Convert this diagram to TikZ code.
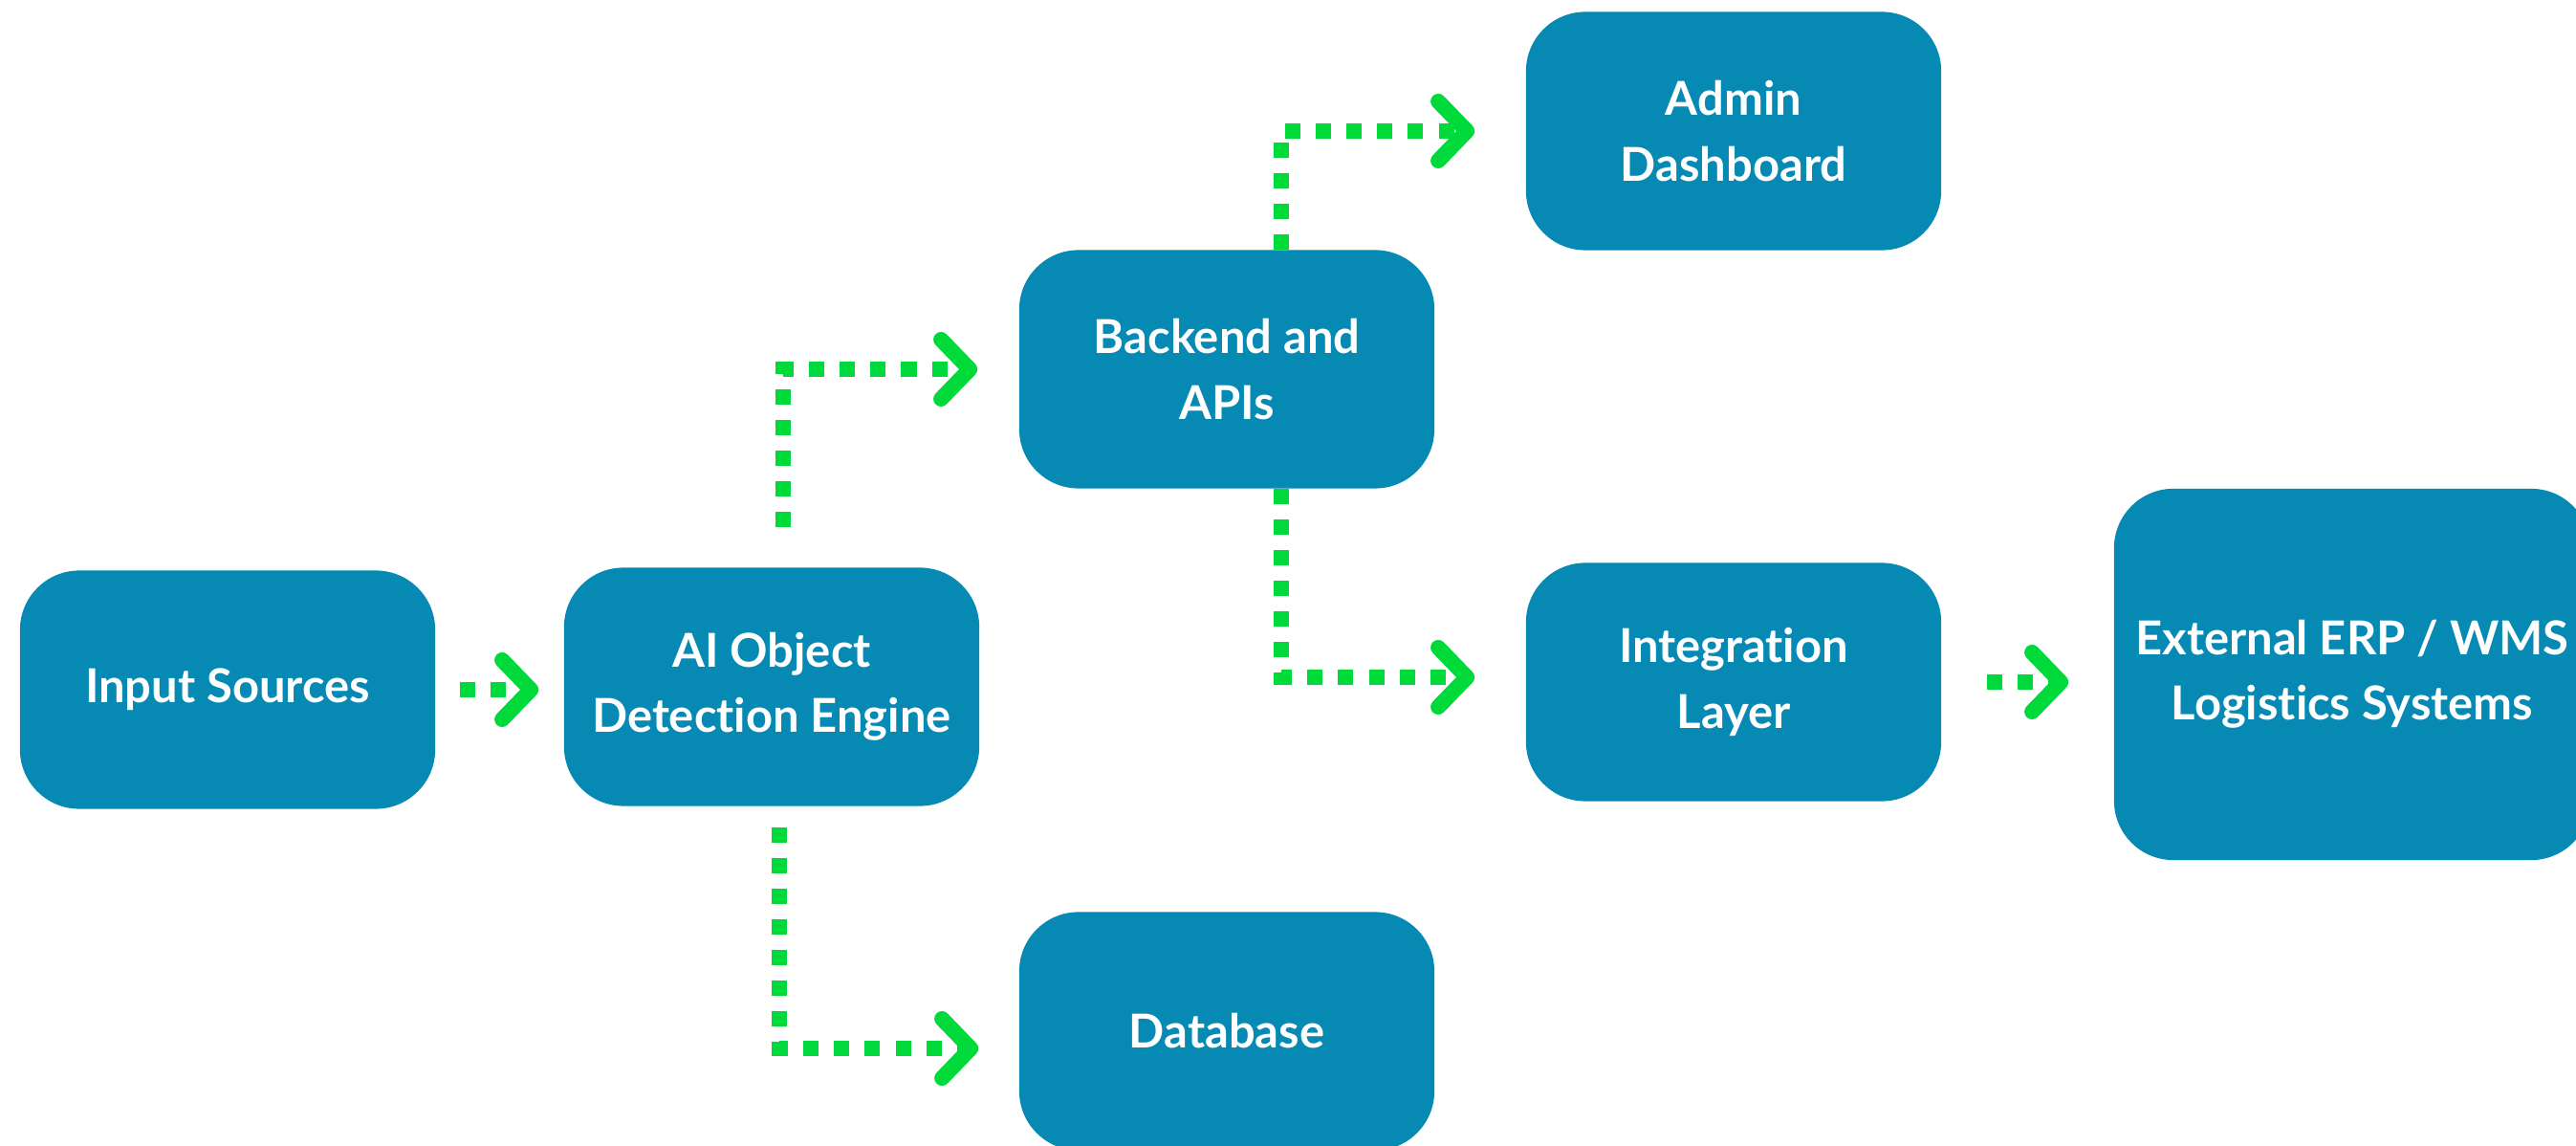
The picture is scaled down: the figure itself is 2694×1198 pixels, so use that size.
\documentclass[tikz,border=0pt]{standalone}
\usepackage{fontspec}
\setmainfont{Lato}[Ligatures=NoCommon]
\usetikzlibrary{arrows.meta}
\definecolor{boxblue}{HTML}{068AB4}
\definecolor{flowgreen}{HTML}{00D93A}
\begin{document}
\begin{tikzpicture}[x=0.01cm,y=-0.01cm,
    block/.style={fill=boxblue,rounded corners=0.62cm,minimum width=4.34cm,minimum height=2.49cm,
      inner sep=0pt,align=center,text=white,font=\fontsize{13.9pt}{19.4pt}\selectfont\bfseries},
    flow/.style={draw=flowgreen,line width=0.16cm,dash pattern=on 0.16cm off 0.16cm,
      -{Straight Barb[length=0.3cm,width=0.62cm,line cap=round,line join=round]}}]
    \useasboundingbox (0,0) rectangle (2694,1198);
    \node[block] (input) at (238,721) {Input Sources};
    \node[block] (ai) at (807,718) {AI Object\\Detection Engine};
    \node[block] (backend) at (1283,386) {Backend and\\APIs};
    \node[block] (admin) at (1813,137) {Admin\\Dashboard};
    \node[block] (integ) at (1813,713) {Integration\\Layer};
    \node[block] (db) at (1283,1078) {Database};
    \node[block,minimum width=4.98cm,minimum height=3.88cm] (ext) at (2460,705) {External ERP / WMS\\Logistics Systems};
    \draw[flow,shorten <=0.25cm,shorten >=0.26cm] (input.east) -- (input.east -| ai.west);
    \draw[flow,shorten <=0.42cm,shorten >=0.43cm] ([xshift=0.12cm]ai.north) |- (backend.west);
    \draw[flow,shorten <=0.22cm,shorten >=0.42cm] ([xshift=0.08cm]ai.south) |- ([yshift=-0.18cm]db.west);
    \draw[flow,shorten >=0.53cm] ([xshift=0.57cm]backend.north) |- (admin.west);
    \draw[flow,shorten >=0.53cm] ([xshift=0.57cm]backend.south) |- ([yshift=0.05cm]integ.west);
    \draw[flow,shorten <=0.47cm,shorten >=0.47cm] (integ.east) -- (integ.east -| ext.west);
\end{tikzpicture}
\end{document}
